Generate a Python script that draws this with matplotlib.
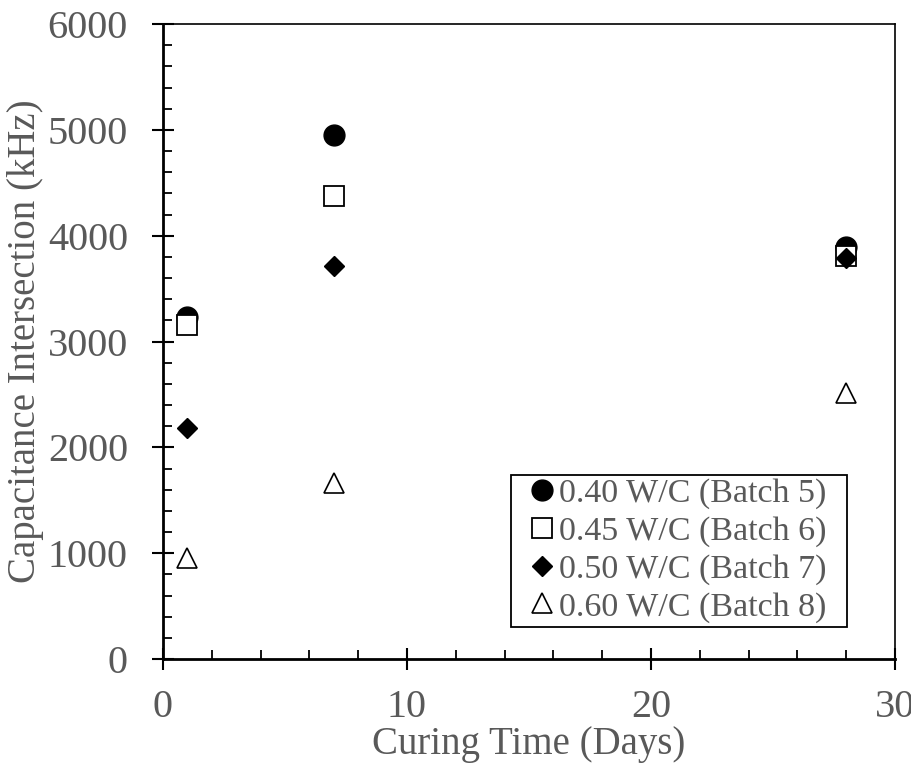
import matplotlib
matplotlib.use("Agg")
import matplotlib.pyplot as plt
from matplotlib.patches import Rectangle
from matplotlib.ticker import MultipleLocator

days = [1, 7, 28]
batch5 = [3232, 4951, 3893]
batch6 = [3156, 4375, 3808]
batch7 = [2183, 3713, 3789]
batch8 = [954, 1663, 2513]
labels = ["0.40 W/C (Batch 5)", "0.45 W/C (Batch 6)",
          "0.50 W/C (Batch 7)", "0.60 W/C (Batch 8)"]

plt.rcParams["font.family"] = ["Liberation Serif", "DejaVu Serif"]
grey = "#595959"

W, H = 911, 765
fig = plt.figure(figsize=(W / 100, H / 100), dpi=100)
ax = fig.add_axes([163 / W, 1 - 659 / H, 732 / W, 635 / H])

ax.plot(days, batch5, "o", ms=15, mfc="black", mec="black", label=labels[0])
ax.plot(days, batch6, "s", ms=13.8, mfc="white", mec="black", mew=1.3, label=labels[1])
ax.plot(days, batch7, "D", ms=10.3, mfc="black", mec="black", label=labels[2])
ax.plot(days, batch8, "^", ms=14.4, mfc="white", mec="black", mew=1.2, label=labels[3])

ax.set_xlim(0, 30)
ax.set_ylim(0, 6000)
ax.xaxis.set_major_locator(MultipleLocator(10))
ax.xaxis.set_minor_locator(MultipleLocator(2))
ax.yaxis.set_major_locator(MultipleLocator(1000))
ax.yaxis.set_minor_locator(MultipleLocator(200))
ax.tick_params(which="major", direction="inout", length=16.5, width=1.5,
               labelsize=29, labelcolor=grey)
ax.tick_params(axis="x", which="major", pad=13)
ax.tick_params(axis="y", which="major", pad=17)
ax.tick_params(which="minor", direction="in", length=6.5, width=1.3)
ax.tick_params(top=False, right=False, which="both")

for side in ["left", "bottom"]:
    ax.spines[side].set_linewidth(2)
for side in ["top", "right"]:
    ax.spines[side].set_linewidth(1.2)

ax.set_xlabel("Curing Time (Days)", fontsize=28, color=grey, labelpad=0)
ax.set_ylabel("Capacitance Intersection (kHz)", fontsize=28, color=grey, labelpad=3)

leg = ax.legend(loc="upper left", bbox_to_anchor=((525 - 163) / 732, (659 - 478) / 635),
                fontsize=24.5, frameon=False, handletextpad=0.0,
                handlelength=1.0, borderpad=0.0, labelspacing=0.2,
                borderaxespad=0)
for t in leg.get_texts():
    t.set_color(grey)

# square frame around the legend, a little wider than its contents
fig.canvas.draw()
bb = leg.get_window_extent(fig.canvas.get_renderer())
x0, y0 = bb.x0 - 14, bb.y0 - 4
x1, y1 = bb.x1 + 20, bb.y1 + 3
frame = Rectangle((x0 / W, y0 / H), (x1 - x0) / W, (y1 - y0) / H,
                  transform=fig.transFigure, fill=False, edgecolor="black",
                  linewidth=1.3, zorder=5)
fig.add_artist(frame)

fig.savefig("out.png", dpi=100)
